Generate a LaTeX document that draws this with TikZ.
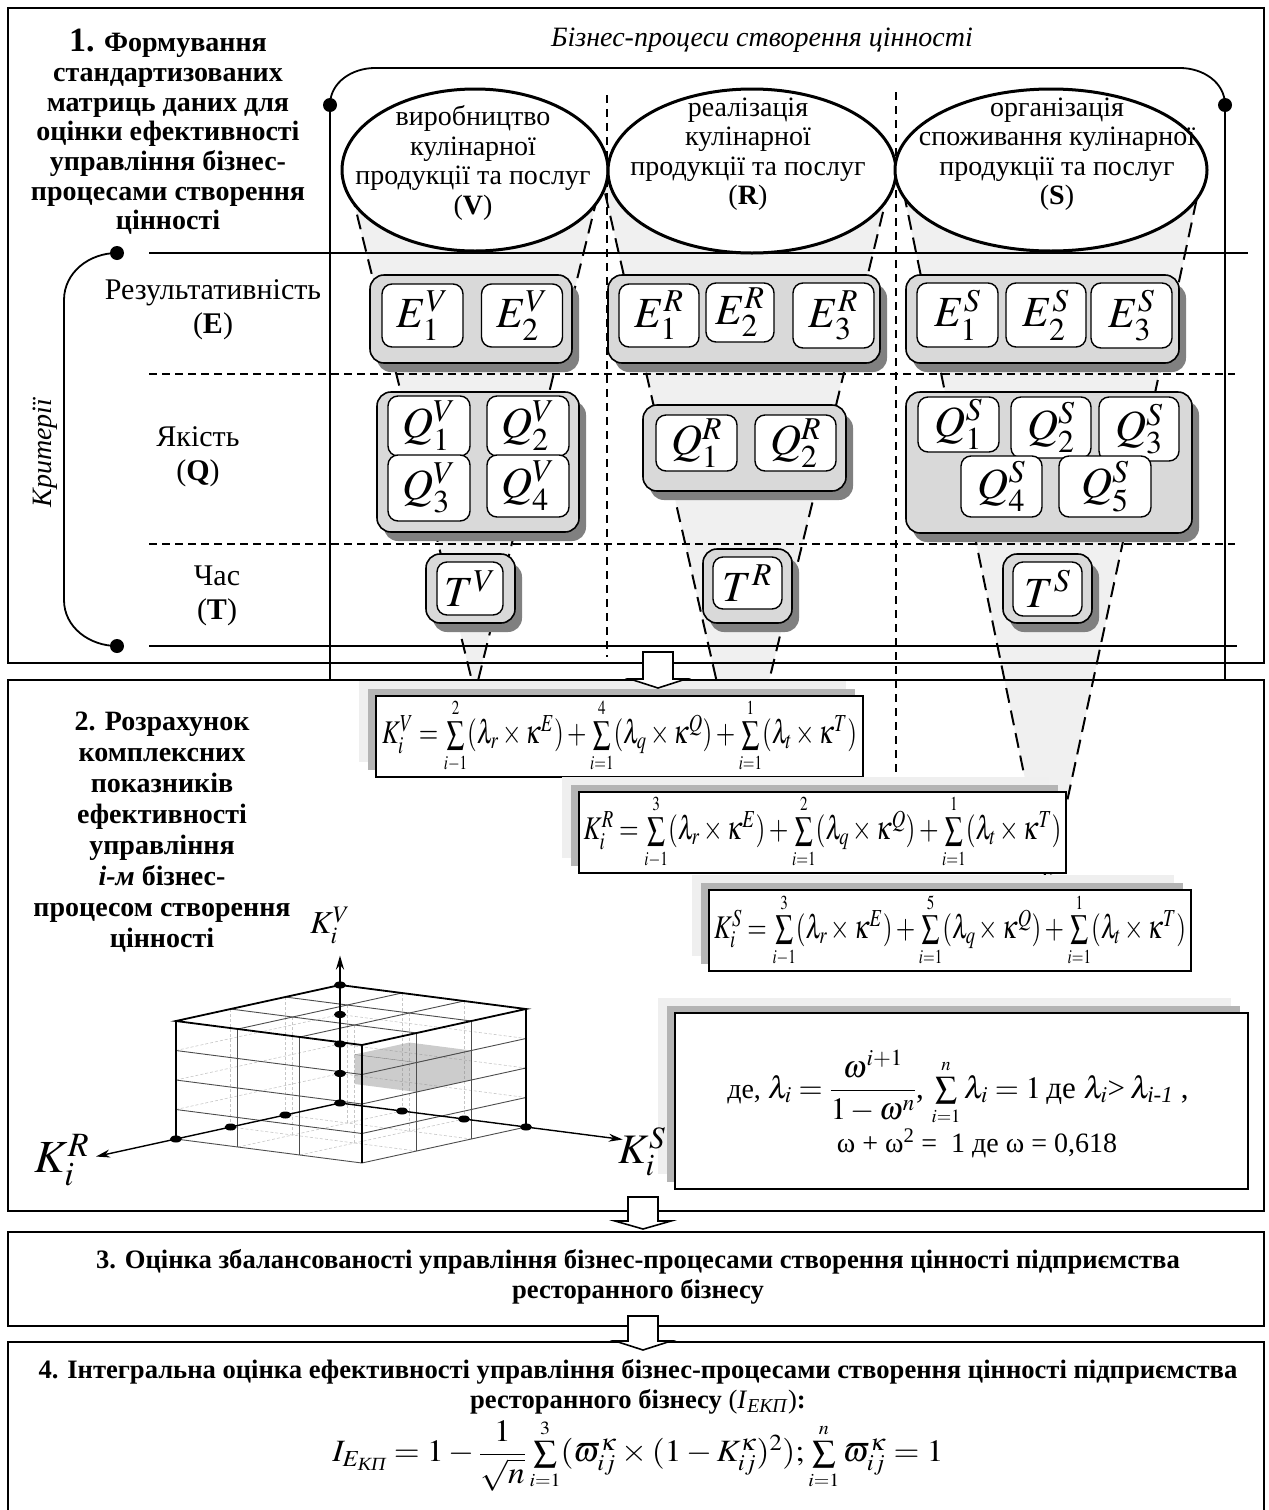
\documentclass[tikz,border=0pt]{standalone}
\usepackage{amsmath}
\usepackage{mathptmx}
\usepackage{graphicx}
\usepackage[no-math]{fontspec}
\setmainfont{Liberation Serif}
\usetikzlibrary{arrows.meta,shadows}

\definecolor{grpfill}{HTML}{D9D9D9}
\definecolor{shade}{HTML}{808080}
\definecolor{funnel}{HTML}{F0F0F0}
\definecolor{halodark}{HTML}{B4B4B4}
\definecolor{halolight}{HTML}{EFEFEF}

\tikzset{
  frame/.style={line width=1.8pt},
  row/.style={line width=1.4pt},
  rowdash/.style={line width=1.4pt, dash pattern=on 8pt off 5pt},
  coldash/.style={line width=1.3pt, dash pattern=on 8pt off 6pt},
  cone/.style={line width=2pt, dash pattern=on 15pt off 8pt},
  proc/.style={line width=3pt, fill=white},
  grp/.style={draw, line width=1.6pt, fill=grpfill, rounded corners=14pt, inner sep=0pt,
    drop shadow={shadow xshift=7pt, shadow yshift=-9pt, fill=shade, opacity=1}},
  cell/.style={draw, line width=1.4pt, fill=white, rounded corners=10pt, inner sep=0pt,
    font=\fontsize{43}{43}\selectfont},
  fbox/.style={draw, line width=1.8pt, fill=white, inner sep=0pt,
    drop shadow={shadow xshift=-17pt, shadow yshift=15pt, fill=halolight, opacity=1},
    drop shadow={shadow xshift=-8pt, shadow yshift=7pt, fill=halodark, opacity=1}},
  bead/.style={circle, fill, inner sep=0pt, minimum size=14pt},
  hid/.style={gray!45, line width=0.6pt, densely dashed},
  cubeln/.style={black!70, line width=0.9pt},
  cubeedge/.style={black, line width=1.8pt},
  axis/.style={line width=1.4pt, -{Stealth[length=14pt, width=8pt]}},
  arrowbox/.style={line width=1.6pt, fill=white}
}

% hollow arrow between two stages: x, top of shaft, base of head, tip
\newcommand\blockarrow[4]{%
  \draw[arrowbox] (#1-15,#2) -- (#1+15,#2) -- (#1+15,#3) -- (#1+28,#3)
    -- (#1,#4) -- (#1-28,#3) -- (#1-15,#3) -- cycle;}
\newcommand\kterm[2]{(\lambda_{#1}\times\kappa^{#2})}
\newcommand\lsum[2]{\sum\limits_{\scriptscriptstyle #1}^{\scriptscriptstyle #2}}
% complex index of one process, narrowed to its box
\newcommand\kformula[5]{\resizebox{#1}{\height}{\fontsize{33}{33}\selectfont
  $K_i^{#2}=\lsum{i-1}{#3}\kterm{r}{E}+\lsum{i=1}{#4}\kterm{q}{Q}+\lsum{i=1}{#5}\kterm{t}{T}$}}

\begin{document}
\begin{tikzpicture}[x=1pt,y=-1pt,font=\fontsize{28}{29.5}\selectfont]
\useasboundingbox (0,0) rectangle (1269,1510);

% ---------- stage 1 ----------
% funnels from the processes down to the formulas
\fill[funnel] (346,170) -- (604,170) -- (475,693) -- cycle;
\fill[funnel] (600,171) -- (893,171) -- (742,792) -- cycle;
\fill[funnel] (899,170) -- (1203,170) -- (1048,890) -- cycle;

% criteria rows and process columns
\draw[row] (149,253) -- (1248,253);
\draw[rowdash] (149,374) -- (1235,374);
\draw[rowdash] (149,544) -- (1235,544);
\draw[row] (149,646) -- (1237,646);
\draw[coldash] (607,95) -- (607,657);
\draw[coldash] (896,92) -- (896,890);

\draw[cone] (346,170) -- (475,693) -- (604,170);
\draw[cone] (600,171) -- (742,792) -- (893,171);
\draw[cone] (899,170) -- (1048,890) -- (1203,170);

% processes
\draw[proc] (475,170) ellipse (133 and 81);
\draw[proc] (752,171) ellipse (144 and 82);
\draw[proc] (1051,170) ellipse (156 and 81);
\node[align=center] (pV) at (473,163) {виробництво\\кулінарної\\продукції та послуг\\(\textbf{V})};
\node[align=center] (pR) at (748,154) {реалізація\\кулінарної\\продукції та послуг\\(\textbf{R})};
\node[align=center] (pS) at (1057,154) {організація\\споживання кулінарної\\продукції та послуг\\(\textbf{S})};

\node[font=\fontsize{28}{29.5}\selectfont\itshape] (head) at (762,40) {Бізнес-процеси створення цінності};
\node[bead] (bl) at (330,105) {};
\node[bead] (br) at (1225,105) {};
\draw[line width=1.8pt] (bl.center) to[out=90,in=180] (375,68) -- (1180,68) to[out=0,in=90] (br.center);
\draw[row] (bl.center) -- (330,680);
\draw[row] (br.center) -- (1225,680);

% criteria
\node[bead] (ct) at (117,253) {};
\node[bead] (cb) at (117,646) {};
\draw[line width=1.8pt] (ct.center) to[out=180,in=90] (64,300) -- (64,600) to[out=-90,in=180] (cb.center);
\node[rotate=90,font=\fontsize{28}{29.5}\selectfont\itshape] (crit) at (45,453) {Критерії};
\node[align=center,font=\fontsize{30}{34}\selectfont] (cE) at (213,310) {Результативність\\(\textbf{E})};
\node[align=center,font=\fontsize{30}{34}\selectfont] (cQ) at (198,457) {Якість\\(\textbf{Q})};
\node[align=center,font=\fontsize{30}{34}\selectfont] (cT) at (217,596) {Час\\(\textbf{T})};

\node[align=center,font=\fontsize{28}{29.7}\selectfont\bfseries] (s1) at (168,132)
  {{\fontsize{34}{29.7}\selectfont 1.} Формування\\стандартизованих\\матриць даних  для\\оцінки ефективності\\управління бізнес-\\процесами створення\\цінності};

% groups of indicators
\node[grp, minimum width=202pt, minimum height=88pt] (gEV) at (471,319) {};
\node[grp, minimum width=272pt, minimum height=88pt] (gER) at (744,319) {};
\node[grp, minimum width=273pt, minimum height=88pt] (gES) at (1042.5,319) {};
\node[grp, minimum width=202pt, minimum height=140pt] (gQV) at (478,462) {};
\node[grp, minimum width=203pt, minimum height=86pt] (gQR) at (744.5,448) {};
\node[grp, minimum width=286pt, minimum height=141pt] (gQS) at (1049,462.5) {};
\node[grp, minimum width=89pt, minimum height=69pt] (gTV) at (470.5,588.5) {};
\node[grp, minimum width=89pt, minimum height=74pt] (gTR) at (747.5,586) {};
\node[grp, minimum width=89pt, minimum height=69pt] (gTS) at (1047.5,588.5) {};

\node[cell, minimum width=81pt, minimum height=63pt] (e1V) at (422.5,315.5) {$E_1^V$};
\node[cell, minimum width=81pt, minimum height=63pt] (e2V) at (522,315.5) {$E_2^V$};
\node[cell, minimum width=80pt, minimum height=63pt] (e1R) at (659,315.5) {$E_1^R$};
\node[cell, minimum width=68pt, minimum height=59pt] (e2R) at (740,312.5) {$E_2^R$};
\node[cell, minimum width=81pt, minimum height=65pt] (e3R) at (833.5,315.5) {$E_3^R$};
\node[cell, minimum width=81pt, minimum height=64pt] (e1S) at (957.5,315) {$E_1^S$};
\node[cell, minimum width=80pt, minimum height=64pt] (e2S) at (1046,315) {$E_2^S$};
\node[cell, minimum width=81pt, minimum height=65pt] (e3S) at (1131.5,315.5) {$E_3^S$};

\node[cell, minimum width=82pt, minimum height=60pt] (q1V) at (429,426) {$Q_1^V$};
\node[cell, minimum width=82pt, minimum height=60pt] (q2V) at (528,426) {$Q_2^V$};
\node[cell, minimum width=82pt, minimum height=66pt] (q3V) at (429,488) {$Q_3^V$};
\node[cell, minimum width=82pt, minimum height=62pt] (q4V) at (528,486) {$Q_4^V$};
\node[cell, minimum width=81pt, minimum height=56pt] (q1R) at (696.5,443) {$Q_1^R$};
\node[cell, minimum width=81pt, minimum height=56pt] (q2R) at (795.5,443) {$Q_2^R$};
\node[cell, minimum width=81pt, minimum height=55pt] (q1S) at (958.5,424.5) {$Q_1^S$};
\node[cell, minimum width=80pt, minimum height=61pt] (q2S) at (1051,427.5) {$Q_2^S$};
\node[cell, minimum width=80pt, minimum height=64pt] (q3S) at (1139,429) {$Q_3^S$};
\node[cell, minimum width=81pt, minimum height=61pt] (q4S) at (1001.5,486.5) {$Q_4^S$};
\node[cell, minimum width=92pt, minimum height=61pt] (q5S) at (1105,486.5) {$Q_5^S$};

\node[cell, minimum width=66pt, minimum height=53pt] (tV) at (470,588.5) {$T^V$};
\node[cell, minimum width=69pt, minimum height=52pt] (tR) at (747.5,583) {$T^R$};
\node[cell, minimum width=69pt, minimum height=54pt] (tS) at (1047.5,589) {$T^S$};

% ---------- stage frames ----------
\draw[frame] (8,8) rectangle (1264,663);
\draw[frame] (8,680) rectangle (1264,1211);
\draw[frame] (8,1232) rectangle (1264,1326);
\draw[frame] (8,1515) -- (8,1342) -- (1264,1342) -- (1264,1515);

% ---------- stage 2 ----------
\node[align=center,font=\fontsize{28}{31}\selectfont\bfseries] (s2) at (162,832)
  {2. Розрахунок\\комплексних\\показників\\ефективності\\управління\\\textit{i-м} бізнес-\\процесом створення\\цінності};

\node[fbox, minimum width=487pt, minimum height=81pt] (kV) at (619.5,736.5) {\kformula{475pt}{V}{2}{4}{1}};
\node[fbox, minimum width=487pt, minimum height=81pt] (kR) at (822.5,832.5) {\kformula{478pt}{R}{3}{2}{1}};
\node[fbox, minimum width=482pt, minimum height=81pt] (kS) at (950,930.5) {\kformula{472pt}{S}{3}{5}{1}};

\node[fbox, minimum width=573pt, minimum height=176pt] (where) at (961.5,1101) {};
\node (w1) at (958,1088) {де, \fontsize{31}{31}\selectfont$\lambda_i=\dfrac{\omega^{i+1}}{1-\omega^n}$, $\lsum{i=1}{n}\lambda_i=1$\,де $\lambda_i$>\,$\lambda_{\textit{i-1}}$ ,};
\node (w2) at (977,1143) {ω + ω\textsuperscript{2} = \ 1 де ω = 0,618};

% value space of the three indicators
\begin{scope}[shift={(340,1103)}]
\begin{scope}[x={(62pt,-8pt)}, y={(-54.7pt,-12pt)}, z={(0pt,29.5pt)}]
  \foreach \k in {1,2,3} {
    \draw[hid] (\k,0,0) -- (\k,0,4);
    \draw[hid] (0,\k,0) -- (0,\k,4);
  }
  \foreach \k in {1,2,3,4} {
    \draw[hid] (0,0,\k) -- (3,0,\k);
    \draw[hid] (0,0,\k) -- (0,3,\k);
  }
  \foreach \k in {1,2} {
    \draw[hid] (\k,0,0) -- (\k,3,0);
    \draw[hid] (0,\k,0) -- (3,\k,0);
    \draw[hid] (\k,1,0) -- (\k,1,4);
    \draw[hid] (\k,2,0) -- (\k,2,4);
  }
  \fill[gray,opacity=0.4] (2,2,3) -- (2,1,3) -- (3,1,3) -- (3,1,2) -- (3,2,2) -- (2,2,2) -- cycle;
  \draw[gray] (2,2,3) -- (3,2,3) -- (3,1,3) (3,2,3) -- (3,2,2);
  \foreach \k in {1,2} {
    \draw[cubeln] (\k,0,4) -- (\k,3,4);
    \draw[cubeln] (0,\k,4) -- (3,\k,4);
    \draw[cubeln] (\k,3,0) -- (\k,3,4);
    \draw[cubeln] (3,\k,0) -- (3,\k,4);
  }
  \foreach \k in {1,2,3} {
    \draw[cubeln] (0,3,\k) -- (3,3,\k);
    \draw[cubeln] (3,0,\k) -- (3,3,\k);
  }
  \draw[cubeln] (0,3,0) -- (3,3,0) -- (3,0,0);
  \draw[cubeedge] (0,0,4) -- (3,0,4) -- (3,3,4) -- (0,3,4) -- cycle;
  \draw[cubeedge] (0,3,0) -- (0,3,4);
  \draw[cubeedge] (3,3,0) -- (3,3,4);
  \draw[cubeedge] (3,0,0) -- (3,0,4);
  \draw[axis, line width=2.6pt] (0,0,0) -- (0,0,5);
  \draw[axis] (0,0,0) -- (4.56,0,0);
  \draw[axis] (0,0,0) -- (0,4.46,0);
  \foreach \k in {0,...,4} \fill (0,0,\k) ellipse (6pt and 3.5pt);
  \foreach \k in {1,2,3} {
    \fill (\k,0,0) ellipse (6pt and 3.5pt);
    \fill (0,\k,0) ellipse (6pt and 3.5pt);
  }
\end{scope}
\end{scope}
\node[font=\fontsize{32}{32}\selectfont] (axV) at (330,925) {$K_i^V$};
\node[font=\fontsize{46}{46}\selectfont] (axR) at (62,1160) {$K_i^R$};
\node[font=\fontsize{42}{42}\selectfont] (axS) at (642,1152) {$K_i^S$};

% ---------- stages 3 and 4 ----------
\node[align=center,font=\fontsize{26.6}{30}\selectfont\bfseries] (s3) at (638,1277)
  {3. Оцінка збалансованості управління бізнес-процесами створення цінності підприємства\\ресторанного бізнесу};
\node[align=center,font=\fontsize{26.6}{30}\selectfont\bfseries] (s4) at (638,1387)
  {4. Інтегральна оцінка ефективності управління бізнес-процесами створення цінності підприємства\\ресторанного бізнесу {\mdseries(\textit{I}\textsubscript{\textit{ЕКП}})}:};
\node (s4f) at (638,1455)
  {\resizebox{611pt}{\height}{\fontsize{31}{31}\selectfont$I_{E_{\text{\itshape КП}}}=1-\dfrac{1}{\sqrt{n}}\lsum{i=1}{3}(\varpi_{ij}^{\kappa}\times(1-K_{ij}^{\kappa})^2);\lsum{i=1}{n}\varpi_{ij}^{\kappa}=1$}};

% transitions between stages
\blockarrow{658}{652}{679}{688}
\blockarrow{643}{1197}{1221}{1229}
\blockarrow{643}{1316}{1341}{1350}

\end{tikzpicture}
\end{document}
